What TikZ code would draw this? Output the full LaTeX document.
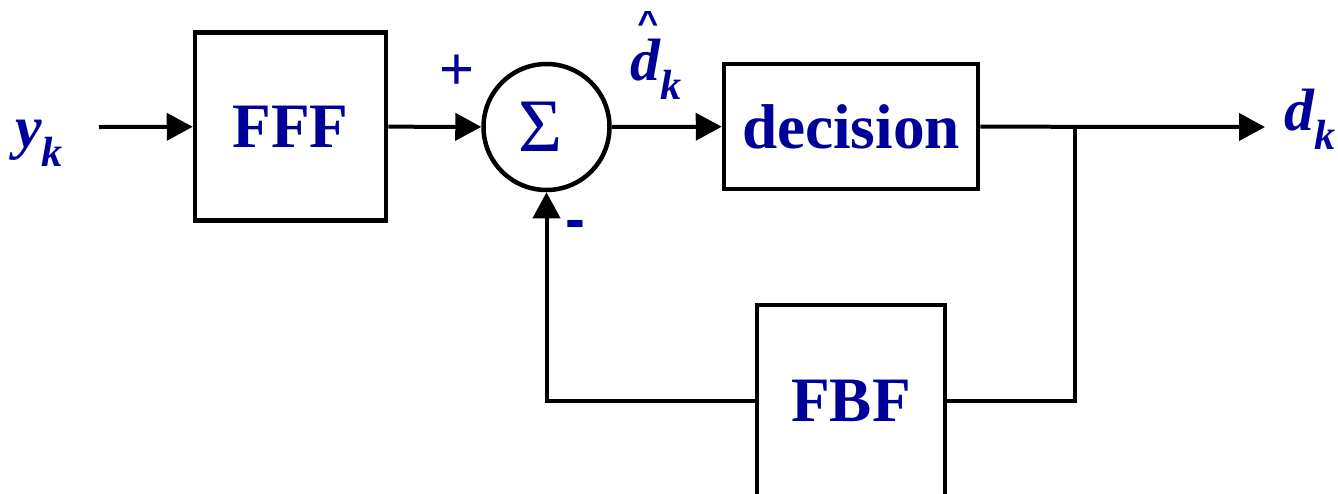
\documentclass[tikz,border=0pt]{standalone}
\usepackage{fontspec}
\setmainfont{Liberation Serif}
\setsansfont{Liberation Sans}
\usepackage{tikz}
\usetikzlibrary{arrows.meta, positioning}
\definecolor{blueLabel}{RGB}{0,0,153}
\newcommand{\subidx}[1]{\raisebox{-0.38cm}{\fontsize{24}{24}\selectfont #1}}

\begin{document}
\begin{tikzpicture}[
    block/.style={draw=black, line width=0.09cm, align=center, text=blueLabel, font=\fontsize{36}{36}\selectfont\bfseries},
    sumnode/.style={draw=black, circle, line width=0.09cm, minimum size=2.52cm, inner sep=0pt, text=blueLabel, font=\fontsize{43}{43}\selectfont},
    lbl/.style={text=blueLabel, inner sep=0pt, font=\fontsize{34}{34}\selectfont\bfseries\itshape},
    sign/.style={text=blueLabel, inner sep=0pt, font=\sffamily},
    arrow/.style={line width=0.08cm, -{Triangle[length=0.52cm, width=0.54cm]}},
    wire/.style={line width=0.08cm}
]
    \useasboundingbox (0,0) rectangle (26.76,-9.86);

    \node[block, minimum width=3.82cm, minimum height=3.76cm] (fff) at (5.81, -2.53) {FFF};
    \node[sumnode] (sum) at (10.93, -2.54) {\hspace*{-0.25cm}Σ};
    \node[block, minimum width=5.08cm, minimum height=2.5cm] (dec) at (17.02, -2.53) {decision};
    \node[block, minimum width=3.76cm, minimum height=3.82cm] (fbf) at (17.02, -8.01) {FBF};

    % labels
    \node[lbl, anchor=base west] (yk) at (0.30, -2.94) {y\subidx{k}};
    \node[lbl, anchor=base west] (dhat) at (12.6, -1.6) {\raisebox{0.92cm}[0pt][0pt]{\makebox[0pt][l]{\hspace{0.14cm}\upshape\sffamily\bfseries\resizebox{0.42cm}{0.46cm}{\textasciicircum}}}d\subidx{k}};
    \node[lbl, anchor=base west] (dk) at (25.68, -2.6) {d\subidx{k}};
    \node[sign, font=\sffamily\fontsize{34}{34}\selectfont] (plus) at (9.14, -1.44) {+};
    \node[sign, font=\sffamily\bfseries\fontsize{34}{34}\selectfont] (minus) at (11.5, -4.6) {-};

    \coordinate (yin) at (1.98, -2.54);
    \coordinate (branch) at (21.5, -2.54);
    \coordinate (dout) at (25.3, -2.54);

    \draw[arrow] (yin) -- (fff);
    \draw[arrow] (fff) -- (sum);
    \draw[arrow] (sum) -- (dec);
    \draw[arrow] (dec) -- (dout);
    \draw[wire] (branch) |- (fbf.east);
    \draw[arrow] (fbf.west) -| (sum.south);
\end{tikzpicture}
\end{document}
